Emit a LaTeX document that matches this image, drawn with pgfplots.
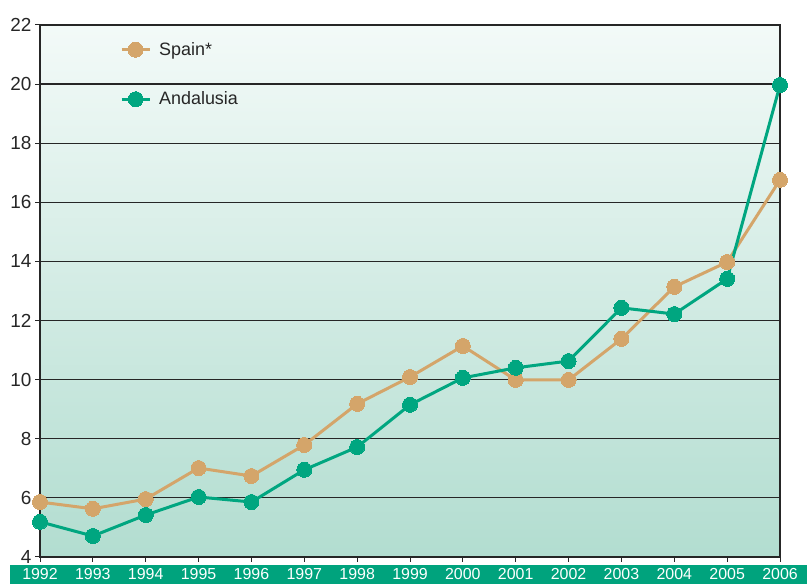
\documentclass[border=0pt]{standalone}
\usepackage{fontspec}
\setmainfont{Liberation Sans}
\usepackage{pgfplots}
\pgfplotsset{compat=1.18}
\definecolor{spain}{RGB}{212,165,106}
\definecolor{anda}{RGB}{0,166,128}
\definecolor{band}{RGB}{0,163,125}
\definecolor{bgtop}{RGB}{243,250,248}
\definecolor{bgbot}{RGB}{178,221,208}
\begin{document}
\begin{tikzpicture}[x=1bp,y=1bp]
\useasboundingbox (0,0) rectangle (807,584);
\fill[band] (10,0) rectangle (807,19);
\begin{axis}[
  at={(40bp,27bp)}, anchor=south west,
  scale only axis, width=740bp, height=532bp,
  xmin=1992, xmax=2006, ymin=4, ymax=22,
  xtick={1992,1993,...,2006}, ytick={4,6,...,22},
  xtick pos=lower, ytick pos=left,
  tick align=outside, major tick length=5bp,
  tick style={black!85, line width=1bp},
  axis line style={black!85, line width=1.2bp},
  ymajorgrids, major grid style={black!85, line width=1.2bp},
  axis background/.style={top color=bgtop, bottom color=bgbot},
  /pgf/number format/1000 sep={},
  /pgf/number format/assume math mode=true,
  yticklabel style={font=\fontsize{19}{21}\selectfont, text=black!85},
  xticklabel style={font=\fontsize{16}{19}\selectfont, text=white, inner sep=1bp, yshift=-5bp},
  legend style={draw=none, fill=none, at={(0.104,0.975)}, anchor=north west,
    font=\fontsize{18}{21}\selectfont, row sep=31bp, column sep=6bp, text=black!85},
  legend cell align=left,
  legend image code/.code={\draw[#1,mark repeat=2,mark phase=2] plot coordinates {(0bp,0bp) (14bp,0bp) (28bp,0bp)};},
]
\addplot[spain, line width=3bp, mark=*, mark size=7.5bp, mark options={fill=spain, draw=spain, line width=0bp}] coordinates {
(1992,5.86) (1993,5.63) (1994,5.96) (1995,7.01) (1996,6.74) (1997,7.79) (1998,9.18) (1999,10.09) (2000,11.14) (2001,9.99) (2002,9.99) (2003,11.38) (2004,13.14) (2005,13.98) (2006,16.76)};
\addlegendentry{Spain*}
\addplot[anda, line width=3bp, mark=*, mark size=7.5bp, mark options={fill=anda, draw=anda, line width=0bp}] coordinates {
(1992,5.19) (1993,4.71) (1994,5.42) (1995,6.03) (1996,5.86) (1997,6.95) (1998,7.72) (1999,9.15) (2000,10.06) (2001,10.40) (2002,10.63) (2003,12.43) (2004,12.22) (2005,13.41) (2006,19.97)};
\addlegendentry{Andalusia}
\end{axis}
\end{tikzpicture}
\end{document}
